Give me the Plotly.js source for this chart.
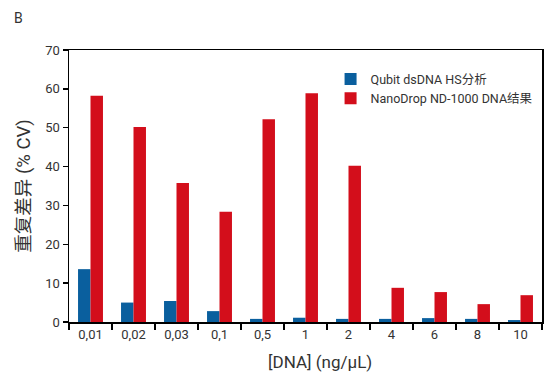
<!DOCTYPE html>
<html>
<head>
<meta charset="utf-8">
<script src="https://cdn.plot.ly/plotly-3.0.1.min.js"></script>
<style>html,body{margin:0;padding:0;background:#fff;}#chart{width:554px;height:379px;}</style>
</head>
<body>
<div id="chart"></div>
<script>
const categories = ["0,01","0,02","0,03","0,1","0,5","1","2","4","6","8","10"];
const qubitValues = [13.6, 5.0, 5.4, 2.8, 0.8, 1.1, 0.8, 0.8, 1.0, 0.8, 0.5];
const nanodropValues = [58.2, 50.2, 35.8, 28.4, 52.2, 58.9, 40.2, 8.8, 7.7, 4.6, 6.9];
const seriesNames = ["Qubit dsDNA HS分析", "NanoDrop ND-1000 DNA结果"];
const yTicks = [0, 10, 20, 30, 40, 50, 60, 70];
const xTitle = "[DNA] (ng/µL)";
const yTitle = "重复差异 (% CV)";

const font = "Roboto, 'Noto Sans CJK SC', sans-serif";
const traces = [
  {type: "bar", x: categories, y: qubitValues, name: seriesNames[0], marker: {color: "#0a5f9e"}},
  {type: "bar", x: categories, y: nanodropValues, name: seriesNames[1], marker: {color: "#d30e1b"}}
];
const layout = {
  width: 554, height: 379,
  margin: {l: 69, r: 12, t: 50, b: 57},
  paper_bgcolor: "#fff", plot_bgcolor: "#fff",
  font: {family: font, color: "#333", size: 13},
  barmode: "group", bargap: 0.42, bargroupgap: 0,
  showlegend: true,
  legend: {x: 0.553, y: 0.947, xanchor: "left", yanchor: "top", font: {size: 12.5, color: "#333"}, bgcolor: "rgba(0,0,0,0)", tracegroupgap: 0},
  xaxis: {
    type: "category", showgrid: false, showline: true, linecolor: "#000", linewidth: 1.5, mirror: true,
    ticks: "outside", tickson: "boundaries", ticklen: 6, tickcolor: "#000", tickwidth: 1.5,
    tickfont: {size: 13, color: "#333"}
  },
  yaxis: {
    range: [0, 70], tickvals: yTicks, showgrid: false, zeroline: false, showline: true, linecolor: "#000", linewidth: 1.5, mirror: true,
    ticks: "outside", ticklen: 5, tickcolor: "#000", tickwidth: 1.5,
    tickfont: {size: 13, color: "#333"},
    title: {text: yTitle, font: {size: 18.5, color: "#333"}, standoff: 10}
  },
  annotations: [
    {text: "B", xref: "paper", yref: "paper", x: -0.121, y: 1.155, xanchor: "left", yanchor: "top", showarrow: false, font: {size: 14, color: "#333"}},
    {text: xTitle, xref: "paper", yref: "paper", x: (320 - 69) / 473, y: -0.148, xanchor: "center", yanchor: "middle", showarrow: false, font: {size: 17, color: "#333"}}
  ]
};
Plotly.newPlot("chart", traces, layout, {displayModeBar: false, staticPlot: true});
</script>
</body>
</html>
